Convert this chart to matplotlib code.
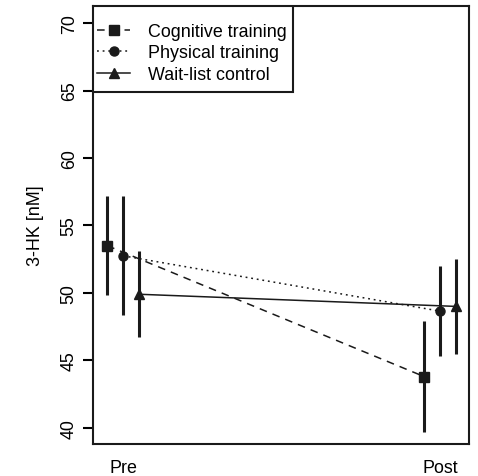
import matplotlib
matplotlib.use("Agg")
import matplotlib.pyplot as plt
from matplotlib.patches import Rectangle

# Data
times = ["Pre", "Post"]
groups = ["Cognitive training", "Physical training", "Wait-list control"]
means_cog = [53.5, 43.8]
err_cog = [3.65, 4.1]
means_phys = [52.75, 48.65]
err_phys = [4.4, 3.35]
means_wait = [49.9, 49.0]
err_wait = [3.2, 3.5]

plt.rcParams["font.family"] = ["Liberation Sans", "DejaVu Sans"]
fs = 12.9

fig = plt.figure(figsize=(4.78, 4.77), dpi=100)
ax = fig.add_axes([0.1946, 0.0671, 0.7866, 0.918])

col = "#1a1a1a"
offsets = [-0.05, 0.0, 0.05]
styles = [(0, (5, 4)), (0, (1.2, 2.5)), "-"]
markers = ["s", "o", "^"]
msizes = [6.5, 6.5, 7.5]
all_means = [means_cog, means_phys, means_wait]
all_errs = [err_cog, err_phys, err_wait]

for name, m, e, off, ls, mk, ms in zip(groups, all_means, all_errs, offsets, styles, markers, msizes):
    xs = [1 + off, 2 + off]
    ax.errorbar(xs, m, yerr=e, fmt="none", ecolor=col, elinewidth=2.2, capsize=0)
    ax.plot(xs, m, linestyle=ls, color=col, linewidth=1.1, marker=mk,
            markersize=ms, markerfacecolor=col, markeredgecolor=col, label=name)

ax.set_xlim(0.905, 2.092)
ax.set_ylim(38.8, 71.26)
ax.set_xticks([1, 2])
ax.set_xticklabels(times, fontsize=fs)
ax.tick_params(axis="x", length=0, pad=11)
ax.set_yticks([40, 45, 50, 55, 60, 65, 70])
ax.tick_params(axis="y", length=7, width=1.5, labelsize=fs, pad=4)
for lab in ax.get_yticklabels():
    lab.set_rotation(90)
    lab.set_va("center")
ax.set_ylabel("3-HK [nM]", fontsize=fs, labelpad=12)
for sp in ax.spines.values():
    sp.set_linewidth(1.5)
    sp.set_color(col)

# legend box drawn like R's legend frame, text placed inside
box = Rectangle((0, 1 - 0.196), 0.532, 0.196, transform=ax.transAxes,
                facecolor="white", edgecolor=col, linewidth=1.5, zorder=4)
ax.add_patch(box)
leg = ax.legend(loc="upper left", bbox_to_anchor=(0.0106, 0.961), borderaxespad=0,
                borderpad=0, fontsize=fs, frameon=False, handlelength=1.85,
                handletextpad=1.0, labelspacing=0.24)
leg.set_zorder(5)

fig.savefig("out.png", dpi=100)
